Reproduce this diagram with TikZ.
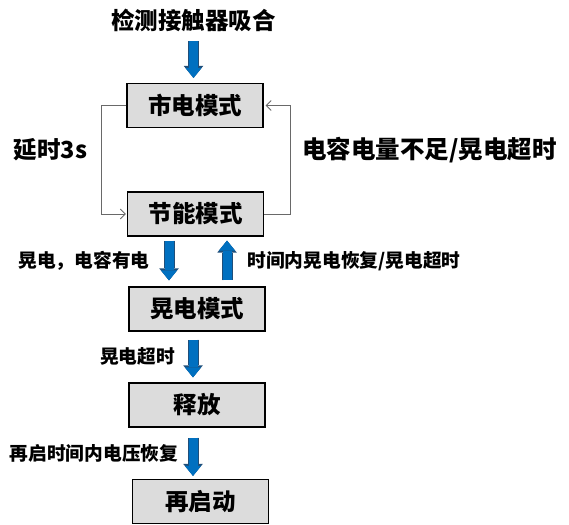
\documentclass[tikz,border=0pt]{standalone}
\usepackage{fontspec}
\setmainfont{Noto Sans CJK SC}
\usetikzlibrary{arrows.meta, positioning, calc}
\definecolor{box-gray}{RGB}{220,220,220}
\definecolor{arrow-blue}{RGB}{0,112,192}
\definecolor{arrow-edge}{RGB}{31,78,121}
\definecolor{loop-gray}{RGB}{105,105,105}

\begin{document}
\begin{tikzpicture}[
    x=1pt, y=1pt,
    mode/.style={rectangle, draw=black, line width=1.1pt, fill=box-gray, minimum width=136pt, minimum height=44pt, font=\fontsize{23.5}{27}\selectfont\bfseries},
    cond/.style={font=\fontsize{23.5}{27}\selectfont\bfseries},
    note/.style={font=\fontsize{18.7}{22}\selectfont\bfseries},
    blk/.style={line width=9pt, draw=arrow-blue, -{Triangle[width=16pt,length=10pt,line width=0pt]},
        preaction={draw=arrow-edge, line width=11pt, -{Triangle[width=19.5pt,length=12pt,line width=0pt]}}},
    loop/.style={draw=loop-gray, line width=0.9pt, -{Straight Barb[length=5pt,width=10pt]}}
]
\useasboundingbox (0,0) rectangle (569,-524);

% modes
\node[mode] (mains) at (195,-105.5) {市电模式};
\node[mode] (saving) at (195.5,-214) {节能模式};
\node[mode] (sag) at (197,-309) {晃电模式};
\node[mode] (release) at (197,-405) {释放};
\node[mode] (restart) at (200.5,-501.5) {再启动};

% conditions
\node[cond] (title) at (193.5,-20) {检测接触器吸合};
\node[cond] (delay) at (50.5,-150) {延时3s};
\node[cond, font=\fontsize{24.5}{28}\selectfont\bfseries] (lowcap) at (429.5,-150) {电容电量不足/晃电超时};
\node[note] (sagcap) at (84,-261) {晃电，电容有电};
\node[note] (recover) at (354,-261) {时间内晃电恢复/晃电超时};
\node[note] (sagout) at (137.5,-356) {晃电超时};
\node[note] (volt) at (94,-453) {再启时间内电压恢复};

% loop between mains and saving
\draw[loop, shorten >=1pt] (mains.west) -- ++(-25,0) |- (saving.west);
\draw[loop, shorten >=2pt] (saving.east) -- ++(26.5,0) |- (mains.east);

% block arrows
\draw[blk, shorten <=6pt, shorten >=5pt] (title.south) -- (title.south |- mains.north);
\draw[blk, shorten <=4pt, shorten >=6pt] ([xshift=-26.5pt]saving.south) -- ([xshift=-26.5pt]saving.south |- sag.north);
\draw[blk, shorten <=6pt, shorten >=4pt] ([xshift=31.5pt]saving.south |- sag.north) -- ([xshift=31.5pt]saving.south);
\draw[blk, shorten <=8pt, shorten >=5pt] ([xshift=-4pt]sag.south) -- ([xshift=-4pt]sag.south |- release.north);
\draw[blk, shorten <=10pt, shorten >=3pt] ([xshift=-4pt]release.south) -- ([xshift=-4pt]release.south |- restart.north);

\end{tikzpicture}
\end{document}
